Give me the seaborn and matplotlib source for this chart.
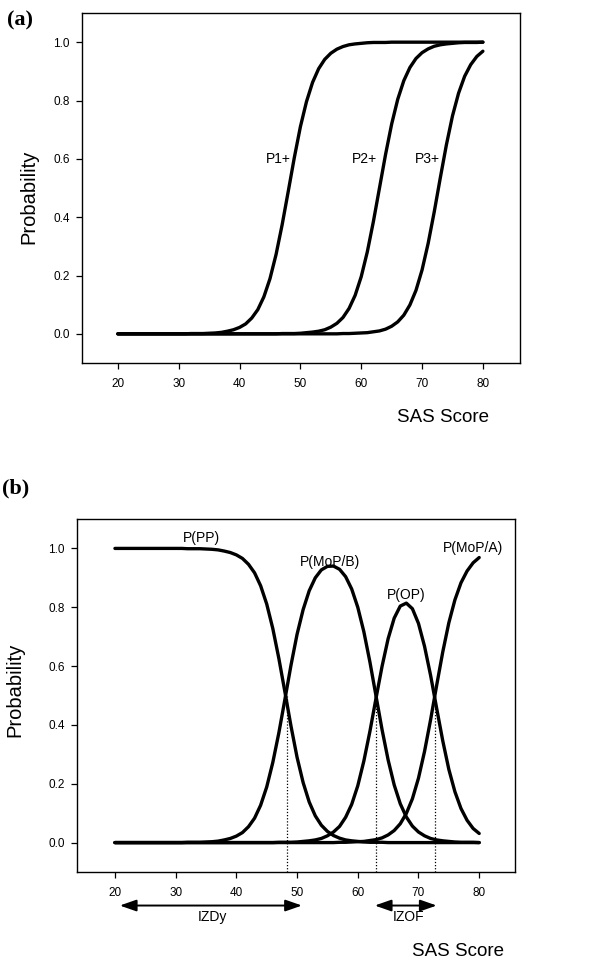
"""Curvas de probabilidad acumulada (a) y de categoria (b) frente a la puntuacion SAS."""

import matplotlib

matplotlib.use("Agg")
import matplotlib.pyplot as plt
import numpy as np
import pandas as pd
import seaborn as sns

sns.set_style("ticks")
plt.rcParams["font.family"] = ["Liberation Sans", "DejaVu Sans"]
plt.rcParams["text.color"] = "black"
plt.rcParams["axes.labelcolor"] = "black"

# --- valores (SAS Score 20..80) ---
SAS = list(range(20, 81))
P1 = [0.000] * 12 + [
    0.001, 0.001, 0.001, 0.002, 0.003, 0.005, 0.009, 0.014, 0.022, 0.034,
    0.054, 0.083, 0.127, 0.189, 0.272, 0.374, 0.488, 0.604, 0.710, 0.796,
    0.862, 0.909, 0.941, 0.962, 0.976, 0.985, 0.991, 0.994, 0.996, 0.998,
    0.999, 0.999, 0.999] + [1.000] * 16
P2 = [0.000] * 27 + [
    0.001, 0.001, 0.001, 0.002, 0.004, 0.006, 0.009, 0.014, 0.023, 0.036,
    0.056, 0.087, 0.132, 0.196, 0.281, 0.385, 0.500, 0.615, 0.719, 0.804,
    0.868, 0.913, 0.944, 0.964, 0.977, 0.986, 0.991, 0.994, 0.996, 0.998,
    0.999, 0.999, 0.999, 1.000]
P3 = [0.000] * 37 + [
    0.001, 0.001, 0.002, 0.003, 0.004, 0.007, 0.010, 0.016, 0.026, 0.041,
    0.064, 0.099, 0.149, 0.219, 0.310, 0.418, 0.535, 0.648, 0.747, 0.825,
    0.883, 0.923, 0.951, 0.969]
UMBRALES = [48.3, 63.0, 72.7]
CUM_LABELS = ["P1+", "P2+", "P3+"]
CUM_POS = [(46.3, 0.60), (60.6, 0.60), (70.8, 0.60)]
CAT_LABELS = ["P(PP)", "P(MoP/B)", "P(OP)", "P(MoP/A)"]
CAT_POS = [(34.2, 1.037), (55.4, 0.955), (67.9, 0.84), (79.0, 1.0)]
YTICKS = [0.0, 0.2, 0.4, 0.6, 0.8, 1.0]
XTICKS = [20, 30, 40, 50, 60, 70, 80]

cum = pd.DataFrame({"SAS": SAS, "P1+": P1, "P2+": P2, "P3+": P3})
cat = pd.DataFrame({
    "SAS": SAS,
    "P(PP)": 1 - cum["P1+"],
    "P(MoP/B)": cum["P1+"] - cum["P2+"],
    "P(OP)": cum["P2+"] - cum["P3+"],
    "P(MoP/A)": cum["P3+"],
})

W, H = 595, 965
fig = plt.figure(figsize=(W / 100, H / 100), dpi=100)
ax_a = fig.add_axes([82 / W, 1 - 363 / H, 438 / W, 350 / H])
ax_b = fig.add_axes([77 / W, 1 - 872 / H, 438 / W, 353 / H])


def estilo(ax, xlim):
    ax.set_xlim(*xlim)
    ax.set_ylim(-0.1, 1.1)
    ax.set_xticks(XTICKS)
    ax.set_yticks(YTICKS)
    ax.set_yticklabels([f"{v:.1f}" for v in YTICKS])
    ax.tick_params(axis="both", direction="out", length=4, width=0.9,
                   labelsize=8.5, colors="black")
    ax.tick_params(axis="x", pad=7)
    ax.tick_params(axis="y", pad=5)
    for s in ax.spines.values():
        s.set_visible(True)
        s.set_linewidth(1.0)
        s.set_color("black")
    ax.set_xlabel("")
    ax.set_ylabel("")
    if ax.get_legend():
        ax.get_legend().remove()


# --- panel (a) ---
for c in CUM_LABELS:
    sns.lineplot(data=cum, x="SAS", y=c, ax=ax_a, color="black", lw=2.4)
for lab, (x, y) in zip(CUM_LABELS, CUM_POS):
    ax_a.text(x, y, lab, ha="center", va="center", fontsize=10, color="black")
estilo(ax_a, (14.1, 86.1))

# --- panel (b) ---
for c in CAT_LABELS:
    sns.lineplot(data=cat, x="SAS", y=c, ax=ax_b, color="black", lw=2.4)
for lab, (x, y) in zip(CAT_LABELS, CAT_POS):
    ax_b.text(x, y, lab, ha="center", va="center", fontsize=10, color="black")
ax_b.vlines(UMBRALES, -0.1, 0.5, colors="black", linestyles=(0, (1, 1.5)),
            lw=0.9)
estilo(ax_b, (13.75, 85.9))

arrow = dict(arrowstyle="<|-|>,head_length=1.0,head_width=0.35",
             color="black", lw=1.4, shrinkA=0, shrinkB=0)
ax_b.annotate("", xy=(50.8, -0.214), xytext=(20.8, -0.214),
              arrowprops=arrow, annotation_clip=False)
ax_b.annotate("", xy=(73.0, -0.214), xytext=(62.8, -0.214),
              arrowprops=arrow, annotation_clip=False)
ax_b.text(36.0, -0.252, "IZDy", ha="center", va="center", fontsize=10,
          color="black", clip_on=False)
ax_b.text(68.3, -0.252, "IZOF", ha="center", va="center", fontsize=10,
          color="black", clip_on=False)

# --- rotulos de figura ---
fig.text(7 / W, 1 - 20 / H, "(a)", ha="left", va="center", fontsize=16,
         fontweight="bold", family=["Liberation Serif", "DejaVu Serif"])
fig.text(2 / W, 1 - 488 / H, "(b)", ha="left", va="center", fontsize=16,
         fontweight="bold", family=["Liberation Serif", "DejaVu Serif"])
fig.text(28.5 / W, 1 - 197 / H, "Probability", rotation=90, ha="center",
         va="center", fontsize=14.5)
fig.text(14.5 / W, 1 - 690 / H, "Probability", rotation=90, ha="center",
         va="center", fontsize=14.5)
fig.text(443 / W, 1 - 418 / H, "SAS Score", ha="center", va="center",
         fontsize=13.5)
fig.text(458 / W, 1 - 952 / H, "SAS Score", ha="center", va="center",
         fontsize=13.5)

fig.savefig("out.png", dpi=100)
